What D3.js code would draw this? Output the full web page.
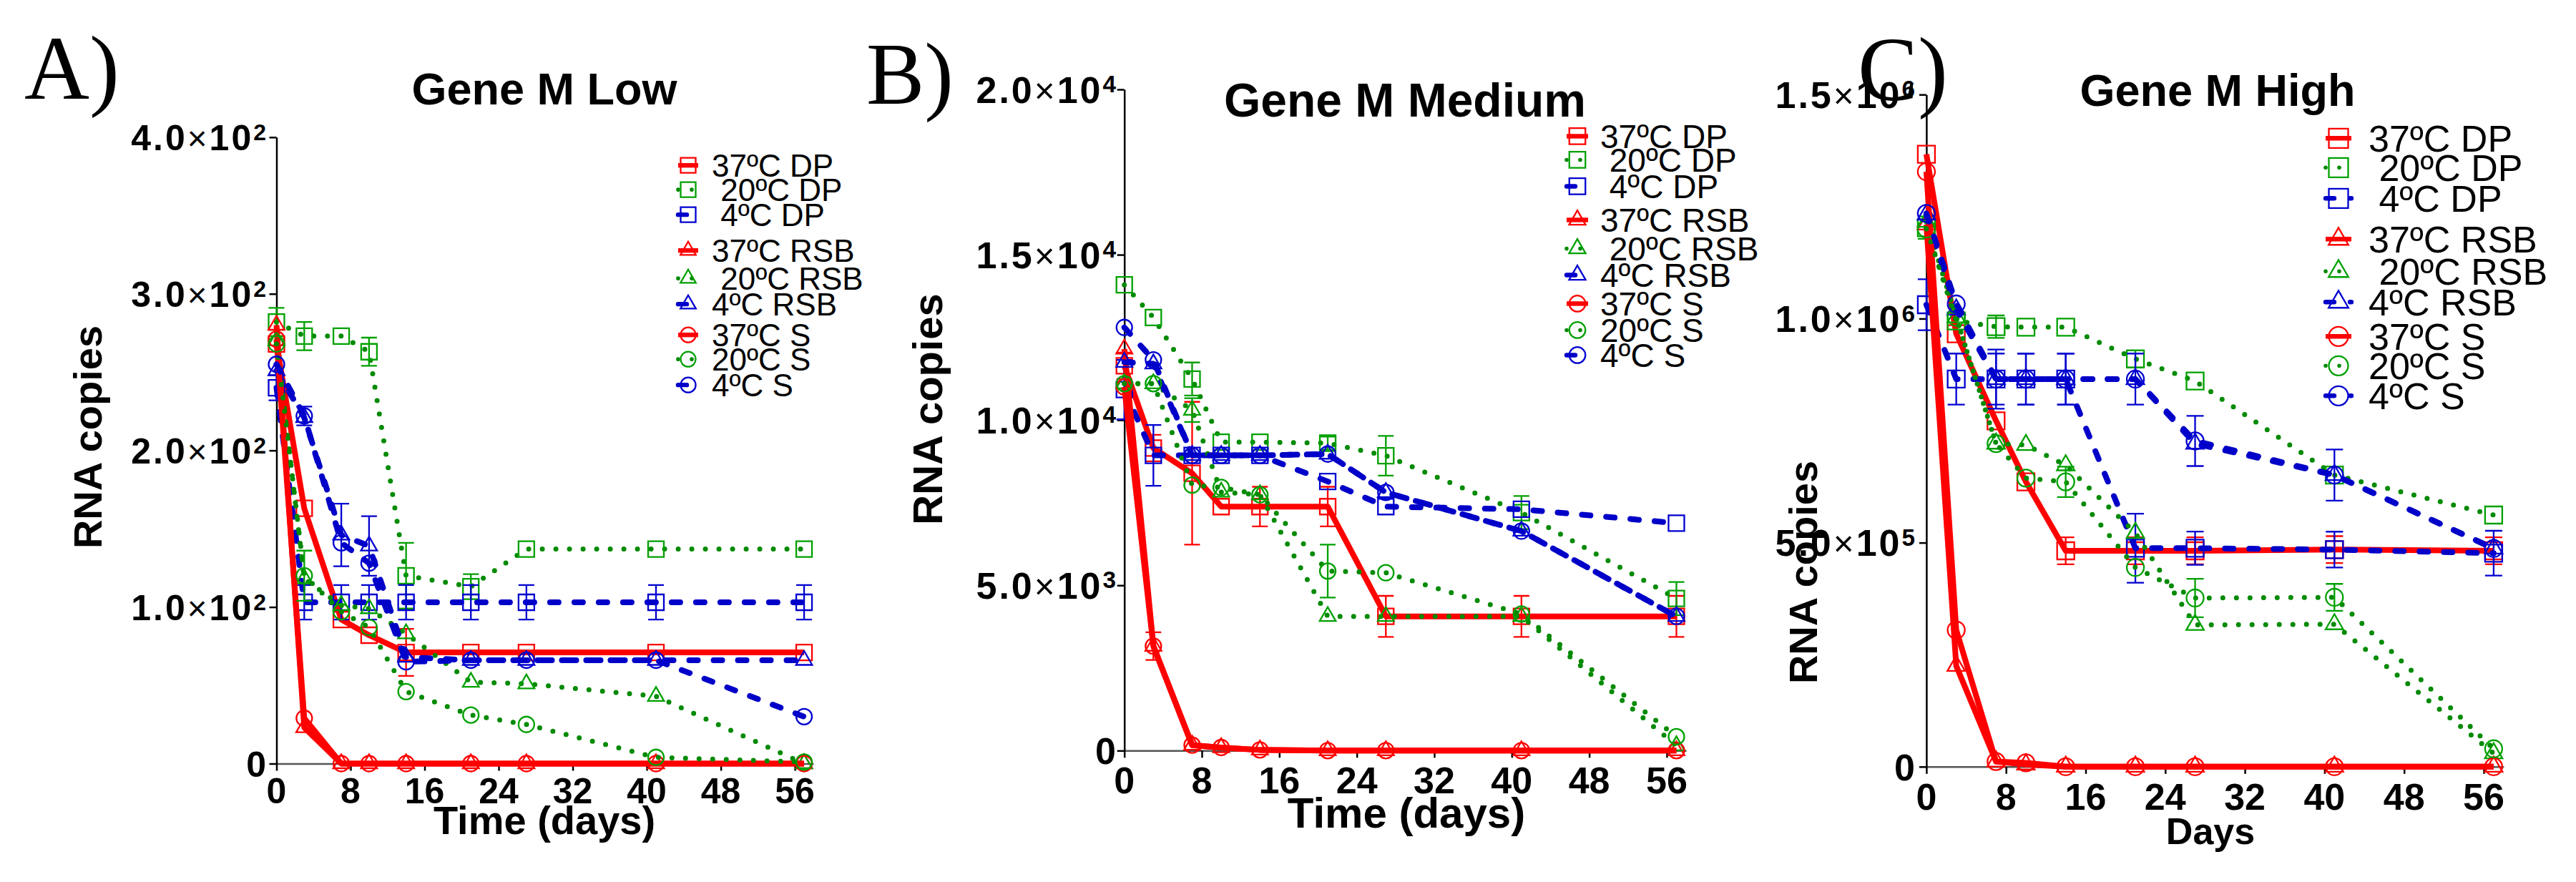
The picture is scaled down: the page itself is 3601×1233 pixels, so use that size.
<!DOCTYPE html>
<html>
<head>
<meta charset="utf-8">
<script src="https://cdn.jsdelivr.net/npm/d3@7"></script>
<style>
    html, body { margin: 0; padding: 0; background: #fff; }
    svg text { font-family: "Liberation Sans", Arial, sans-serif; fill: #000; }
    svg text.letter { font-family: "Liberation Serif", "Times New Roman", serif; }
    svg .legend text { white-space: pre; }
</style>
</head>
<body>
<svg id="chart" width="3601" height="1233"></svg>
<script>
/************************************* Data *************************************/
// sampling days (same for all panels)
const days = [0, 3, 7, 10, 14, 21, 27, 41, 57];

// legend order: DP, RSB, S at 37 / 20 / 4 ºC
const seriesNames = ["37ºC DP", " 20ºC DP", " 4ºC DP", "37ºC RSB", " 20ºC RSB", "4ºC RSB", "37ºC S", "20ºC S", "4ºC S"];
const seriesTemps = [37, 20, 4, 37, 20, 4, 37, 20, 4];
const seriesShapes = ["square", "square", "square", "triangle", "triangle", "triangle", "circle", "circle", "circle"];

// A) Gene M Low
const low37DP  = [268, 163, 92, 82, 71, 71, 71, 71, 71];
const low20DP  = [282, 273, 273, 263, 120, 113, 137, 137, 137];
const low4DP   = [240, 103, 103, 103, 103, 103, 103, 103, 103];
const low37RSB = [280, 23, 0, 0, 0, 0, 0, 0, 0];
const low20RSB = [270, 118, 101, 99, 83, 52, 51, 43, 0];
const low4RSB  = [251, 221, 146, 139, 68, 66, 66, 66, 66];
const low37S   = [271, 29, 0, 0, 0, 0, 0, 0, 0];
const low20S   = [268, 120, 97, 87, 46, 31, 25, 4, 1];
const low4S    = [255, 222, 141, 128, 65, 66, 66, 66, 30];

const lowErr37DP = [0, 0, 0, 0, 15, 0, 0, 0, 0];
const lowErr20DP = [9, 9, 0, 9, 21, 8, 0, 0, 0];
const lowErr4DP  = [8, 11, 11, 11, 11, 11, 11, 11, 11];
const lowErr4RSB = [0, 0, 20, 19, 0, 0, 0, 0, 0];
const lowErr20S  = [0, 16, 0, 0, 0, 0, 0, 0, 0];
const lowErr4S   = [0, 6, 0, 0, 0, 0, 0, 0, 0];

// B) Gene M Medium
const med37DP  = [11640, 9150, 8390, 7380, 7380, 7380, 4060, 4060, 4060];
const med20DP  = [14090, 13100, 11240, 9330, 9330, 9300, 8920, 7200, 4600];
const med4DP   = [10920, 8930, 8930, 8930, 8930, 8140, 7380, 7300, 6880];
const med37RSB = [12150, 3160, 165, 90, 20, 0, 0, 0, 0];
const med20RSB = [11100, 11100, 10300, 7820, 7740, 4060, 4060, 4060, 150];
const med4RSB  = [11750, 11700, 8930, 8930, 8930, 8970, 7810, 6640, 4060];
const med37S   = [11000, 3160, 165, 93, 20, 0, 0, 0, 0];
const med20S   = [11100, 11100, 8030, 7960, 7740, 5430, 5380, 4130, 420];
const med4S    = [12800, 11820, 8930, 8930, 8930, 8970, 7810, 6640, 4060];

const medErr37DP  = [400, 400, 2160, 0, 600, 600, 620, 620, 620];
const medErr20DP  = [0, 0, 500, 0, 0, 200, 600, 500, 500];
const medErr4DP   = [900, 920, 0, 0, 0, 0, 0, 0, 0];
const medErr20RSB = [0, 0, 360, 0, 0, 0, 0, 0, 0];
const medErr37S   = [0, 420, 0, 0, 0, 0, 0, 0, 0];
const medErr20S   = [0, 0, 0, 0, 0, 800, 0, 0, 0];

// C) Gene M High
const high37DP  = [1366700, 966000, 771800, 635700, 481800, 481800, 481800, 484500, 481800];
const high20DP  = [1202900, 995000, 982000, 981000, 981000, 910000, 860700, 650900, 561600];
const high4DP   = [1031000, 865000, 865000, 865000, 865000, 487600, 487600, 484500, 476500];
const high37RSB = [1210000, 225000, 11500, 5000, 0, 0, 0, 0, 0];
const high20RSB = [1216000, 1003000, 721000, 718000, 672700, 521700, 316400, 317900, 30000];
const high4RSB  = [1232000, 1020000, 865000, 865000, 865000, 865000, 721000, 650900, 487000];
const high37S   = [1327900, 305000, 11500, 8600, 0, 0, 0, 0, 0];
const high20S   = [1200000, 1003000, 721000, 644000, 635700, 444700, 376400, 378000, 40000];
const high4S    = [1234800, 1032600, 865000, 865000, 865000, 865000, 727000, 650900, 487000];

const highErr37DP = [0, 0, 0, 0, 30000, 30000, 30000, 30000, 30000];
const highErr20DP = [25000, 0, 25000, 0, 0, 19000, 0, 0, 0];
const highErr4DP  = [57000, 57000, 66000, 57000, 57000, 77000, 37000, 40000, 50000];
const highErr20S  = [0, 0, 0, 0, 34000, 0, 43000, 30000, 0];
const highErr4S   = [0, 0, 57000, 57000, 57000, 57000, 56000, 57000, 0];

const none = [0, 0, 0, 0, 0, 0, 0, 0, 0];

// axis ticks
const xTicks = [0, 8, 16, 24, 32, 40, 48, 56];
const lowTicks = [0, 100, 200, 300, 400];
const lowTickLabels = ["0", "1.0×10^2", "2.0×10^2", "3.0×10^2", "4.0×10^2"];
const medTicks = [0, 5000, 10000, 15000, 20000];
const medTickLabels = ["0", "5.0×10^3", "1.0×10^4", "1.5×10^4", "2.0×10^4"];
const highTicks = [0, 500000, 1000000, 1500000];
const highTickLabels = ["0", "5.0×10^5", "1.0×10^6", "1.5×10^6"];

/************************************* Layout *************************************/
const panels = [
    {
        letter: "A)", title: "Gene M Low", xLabel: "Time (days)", yMax: 400,
        ticks: lowTicks, tickLabels: lowTickLabels,
        values: [low37DP, low20DP, low4DP, low37RSB, low20RSB, low4RSB, low37S, low20S, low4S],
        errors: [lowErr37DP, lowErr20DP, lowErr4DP, none, none, lowErr4RSB, none, lowErr20S, lowErr4S],
        left: 386.5, right: 1137, top: 191.8, bottom: 1067.5,
        letterPos: [34, 138, 126], titlePos: [761, 146, 63], yLabelPos: [142, 611, 56],
        xLabelPos: [761, 1166, 56], xTickY: 1123, yTickRight: 375, tickFont: 50,
        legend: {symX: 962, textX: 995, size: 44, symW: 28, base: [247, 281, 316, 366, 405, 441, 484, 518, 554]},
        marker: 22
    },
    {
        letter: "B)", title: "Gene M Medium", xLabel: "Time (days)", yMax: 20000,
        ticks: medTicks, tickLabels: medTickLabels,
        values: [med37DP, med20DP, med4DP, med37RSB, med20RSB, med4RSB, med37S, med20S, med4S],
        errors: [medErr37DP, medErr20DP, medErr4DP, none, medErr20RSB, none, medErr37S, medErr20S, none],
        left: 1571.7, right: 2357, top: 125, bottom: 1049.3,
        letterPos: [1211, 145, 122], titlePos: [1964, 163, 66], yLabelPos: [1317, 572, 58],
        xLabelPos: [1966, 1157, 60], xTickY: 1109, yTickRight: 1563, tickFont: 52,
        legend: {symX: 2205, textX: 2237, size: 46, symW: 30, base: [207, 240, 277, 324, 364, 401, 441, 478, 513]},
        marker: 22
    },
    {
        letter: "C)", title: "Gene M High", xLabel: "Days", yMax: 1500000,
        ticks: highTicks, tickLabels: highTickLabels,
        values: [high37DP, high20DP, high4DP, high37RSB, high20RSB, high4RSB, high37S, high20S, high4S],
        errors: [highErr37DP, highErr20DP, highErr4DP, none, none, none, none, highErr20S, highErr4S],
        left: 2692.9, right: 3499.8, top: 132.2, bottom: 1071.8,
        letterPos: [2597, 140, 126], titlePos: [3100, 148, 63], yLabelPos: [2540, 800, 56],
        xLabelPos: [3090, 1180, 52], xTickY: 1132, yTickRight: 2680, tickFont: 52,
        legend: {symX: 3269, textX: 3311, size: 52, symW: 36, base: [212, 253, 296, 353, 398, 441, 489, 530, 572]},
        marker: 24
    }
];

// line / marker style per temperature
const tempStyle = {
    37: {line: "#ff0000", mark: "#ff0000", width: 8, dash: null, cap: "butt"},
    20: {line: "#008a00", mark: "#00a000", width: 7, dash: "0,19", cap: "round"},
    4:  {line: "#0000c8", mark: "#0000d0", width: 8, dash: "12,22", cap: "round"}
};

/************************************* Paint *************************************/
const svg = d3.select("#chart");
svg.append("rect").attr("width", 3601).attr("height", 1233).attr("fill", "#fff");

const symbolPath = function (shape, s) {
    if (shape === "square") return d3.symbol(d3.symbolSquare, s * s)();
    if (shape === "circle") return d3.symbol(d3.symbolCircle, Math.PI * s * s / 4)();
    return d3.symbol(d3.symbolTriangle, Math.sqrt(3) / 4 * s * s * 1.05)();
};

const addTickLabel = function (g, label, x, y, size) {
    const text = g.append("text")
        .attr("x", x)
        .attr("y", y)
        .attr("text-anchor", "end")
        .attr("font-size", size)
        .attr("font-weight", "bold")
        .attr("letter-spacing", 3);
    const parts = label.split(/[×^]/);
    if (parts.length === 1) { text.text(label); return; }
    text.append("tspan").text(parts[0]);
    text.append("tspan").attr("font-weight", "normal").attr("font-size", size * 0.95).text("×");
    text.append("tspan").text(parts[1]);
    text.append("tspan").attr("font-size", size * 0.64).attr("dy", -size * 0.28).text(parts[2]);
};

panels.forEach(function (p) {
    const g = svg.append("g");

    const x = d3.scaleLinear().domain([0, 58]).range([p.left, p.right]);
    const y = d3.scaleLinear().domain([0, p.yMax]).range([p.bottom, p.top]);

    // axes
    const xAxis = g.append("g")
        .attr("transform", "translate(0," + p.bottom + ")")
        .call(d3.axisBottom(x).tickValues(xTicks).tickSize(10).tickSizeOuter(0).tickFormat(""));
    xAxis.select(".domain").attr("stroke", "#555").attr("stroke-width", 2.5);
    xAxis.selectAll(".tick line").attr("stroke", "#000").attr("stroke-width", 2.5);

    const yAxis = g.append("g")
        .attr("transform", "translate(" + p.left + ",0)")
        .call(d3.axisLeft(y).tickValues(p.ticks).tickSize(10).tickSizeOuter(0).tickFormat(""));
    yAxis.select(".domain").attr("stroke", "#000").attr("stroke-width", 2.5);
    yAxis.selectAll(".tick line").attr("stroke", "#000").attr("stroke-width", 2.5);

    // tick labels
    xTicks.forEach(function (t) {
        g.append("text")
            .attr("x", x(t))
            .attr("y", p.xTickY)
            .attr("text-anchor", "middle")
            .attr("font-size", p.tickFont)
            .attr("font-weight", "bold")
            .text(t);
    });
    p.ticks.forEach(function (t, i) {
        addTickLabel(g, p.tickLabels[i], p.yTickRight, y(t) + p.tickFont * 0.36, p.tickFont);
    });

    // texts
    g.append("text").attr("class", "letter")
        .attr("x", p.letterPos[0]).attr("y", p.letterPos[1])
        .attr("font-size", p.letterPos[2])
        .text(p.letter);
    g.append("text")
        .attr("x", p.titlePos[0]).attr("y", p.titlePos[1])
        .attr("text-anchor", "middle")
        .attr("font-size", p.titlePos[2]).attr("font-weight", "bold")
        .text(p.title);
    g.append("text")
        .attr("transform", "translate(" + p.yLabelPos[0] + "," + p.yLabelPos[1] + ") rotate(-90)")
        .attr("text-anchor", "middle")
        .attr("font-size", p.yLabelPos[2]).attr("font-weight", "bold")
        .text("RNA copies");
    g.append("text")
        .attr("x", p.xLabelPos[0]).attr("y", p.xLabelPos[1])
        .attr("text-anchor", "middle")
        .attr("font-size", p.xLabelPos[2]).attr("font-weight", "bold")
        .text(p.xLabel);

    // series
    const line = d3.line()
        .x(function (d) { return x(d[0]); })
        .y(function (d) { return y(d[1]); });

    p.values.forEach(function (vals, k) {
        const st = tempStyle[seriesTemps[k]];
        const pts = days.map(function (d, i) { return [d, vals[i], p.errors[k][i]]; });
        const sg = g.append("g");

        sg.append("path")
            .datum(pts)
            .attr("d", line)
            .attr("fill", "none")
            .attr("stroke", st.line)
            .attr("stroke-width", st.width)
            .attr("stroke-linejoin", "round")
            .attr("stroke-linecap", st.cap)
            .attr("stroke-dasharray", st.dash);

        // error bars
        const half = p.marker / 2;
        pts.filter(function (d) { return d[2] > 0; }).forEach(function (d) {
            const cx = x(d[0]), y1 = y(d[1] + d[2]), y0 = y(Math.max(0, d[1] - d[2]));
            sg.append("path")
                .attr("d", "M" + cx + "," + y0 + "V" + y1 +
                    "M" + (cx - half) + "," + y1 + "H" + (cx + half) +
                    "M" + (cx - half) + "," + y0 + "H" + (cx + half))
                .attr("fill", "none")
                .attr("stroke", st.mark)
                .attr("stroke-width", 2.3);
        });

        sg.selectAll(".marker")
            .data(pts)
            .enter()
            .append("path")
            .attr("class", "marker")
            .attr("transform", function (d) { return "translate(" + x(d[0]) + "," + y(d[1]) + ")"; })
            .attr("d", symbolPath(seriesShapes[k], p.marker))
            .attr("fill", "none")
            .attr("stroke", st.mark)
            .attr("stroke-width", 2.3);
    });

    // legend
    const lg = g.append("g").attr("class", "legend");
    seriesNames.forEach(function (name, k) {
        const st = tempStyle[seriesTemps[k]];
        const L = p.legend;
        const sy = L.base[k] - L.size * 0.36;
        lg.append("line")
            .attr("x1", L.symX - L.symW / 2).attr("x2", L.symX + L.symW / 2)
            .attr("y1", sy).attr("y2", sy)
            .attr("stroke", st.line)
            .attr("stroke-width", st.width * 0.8)
            .attr("stroke-linecap", st.cap)
            .attr("stroke-dasharray", st.dash);
        lg.append("path")
            .attr("transform", "translate(" + L.symX + "," + sy + ")")
            .attr("d", symbolPath(seriesShapes[k], L.symW * 0.75))
            .attr("fill", "none")
            .attr("stroke", st.mark)
            .attr("stroke-width", 2.3);
        lg.append("text")
            .attr("x", L.textX).attr("y", L.base[k])
            .attr("font-size", L.size)
            .text(name);
    });
});
</script>
</body>
</html>
